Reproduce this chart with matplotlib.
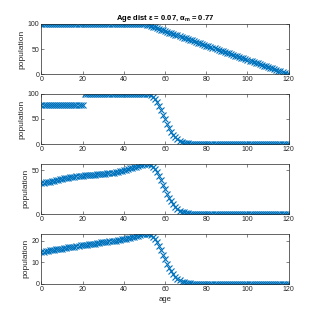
import numpy as np
import matplotlib
matplotlib.use("Agg")
import matplotlib.pyplot as plt
from matplotlib import font_manager

names = {f.name for f in font_manager.fontManager.ttflist}
tick_font = 'Liberation Sans Narrow' if 'Liberation Sans Narrow' in names else 'Liberation Sans'

plt.rcParams['font.family'] = ['Liberation Sans', 'DejaVu Sans']
plt.rcParams['mathtext.fontset'] = 'custom'
plt.rcParams['mathtext.rm'] = 'Liberation Sans:bold'
plt.rcParams['mathtext.it'] = 'Liberation Sans:bold'
plt.rcParams['mathtext.bf'] = 'Liberation Sans:bold'

# ages 0..120, one sample per year
age = np.arange(0, 121)

# panel 1: flat, then straight decline to zero
pop_1 = [100.0] * 51 + [
    98.6, 97.1, 95.7, 94.3, 92.9, 91.4, 90.0, 88.6, 87.1, 85.7,
    84.3, 82.9, 81.4, 80.0, 78.6, 77.1, 75.7, 74.3, 72.9, 71.4,
    70.0, 68.6, 67.1, 65.7, 64.3, 62.9, 61.4, 60.0, 58.6, 57.1,
    55.7, 54.3, 52.9, 51.4, 50.0, 48.6, 47.1, 45.7, 44.3, 42.9,
    41.4, 40.0, 38.6, 37.1, 35.7, 34.3, 32.9, 31.4, 30.0, 28.6,
    27.1, 25.7, 24.3, 22.9, 21.4, 20.0, 18.6, 17.1, 15.7, 14.3,
    12.9, 11.4, 10.0, 8.6, 7.1, 5.7, 4.3, 2.9, 1.4, 0.0]

# panel 2: step at 20, plateau, then steep fall
pop_2 = [77.0] * 21 + [100.0] * 31 + [
    99.0, 97.0, 94.0, 89.0, 83.0, 75.0, 67.0, 58.0, 49.0, 40.0,
    32.0, 25.0, 19.0, 14.0, 10.0, 7.0, 4.8, 3.2, 2.1, 1.3,
    0.8, 0.5, 0.3, 0.2, 0.1] + [0.0] * 44

# panel 3
pop_3 = [
    35.5, 35.8, 36.2, 36.7, 37.2, 37.7, 38.2, 38.8, 39.3, 39.8,
    40.3, 40.8, 41.3, 41.7, 42.1, 42.5, 42.9, 43.2, 43.5, 43.8,
    44.0, 44.2, 44.4, 44.6, 44.8, 45.0, 45.2, 45.3, 45.5, 45.7,
    45.9, 46.1, 46.4, 46.7, 47.0, 47.4, 47.9, 48.4, 49.0, 49.6,
    50.2, 50.9, 51.6, 52.3, 53.0, 53.7, 54.4, 55.1, 55.8, 56.5,
    57.1, 57.6, 57.0, 55.9, 54.1, 51.3, 47.8, 43.2, 38.6, 33.4,
    28.2, 23.0, 18.4, 14.4, 10.9, 8.1, 5.8, 4.0, 2.8, 1.8,
    1.2, 0.7, 0.5, 0.3, 0.2, 0.1] + [0.0] * 45

# panel 4
pop_4 = [
    14.9, 15.0, 15.2, 15.3, 15.5, 15.7, 15.8, 16.0, 16.1, 16.3,
    16.4, 16.6, 16.7, 16.9, 17.0, 17.2, 17.3, 17.5, 17.6, 17.8,
    17.9, 18.0, 18.2, 18.3, 18.5, 18.6, 18.7, 18.9, 19.0, 19.2,
    19.3, 19.4, 19.6, 19.7, 19.9, 20.0, 20.1, 20.3, 20.4, 20.6,
    20.7, 20.9, 21.2, 21.4, 21.6, 21.9, 22.1, 22.4, 22.6, 22.9,
    23.1, 23.3, 23.1, 22.6, 21.9, 20.7, 19.3, 17.5, 15.6, 13.5,
    11.4, 9.3, 7.5, 5.8, 4.4, 3.3, 2.3, 1.6, 1.1, 0.7,
    0.5, 0.3, 0.2, 0.1, 0.05, 0.02] + [0.0] * 45

panels = [pop_1, pop_2, pop_3, pop_4]
yticks = [[0, 50, 100], [0, 50, 100], [0, 50], [0, 10, 20]]

blue = '#0072BD'
grey = '#262626'

fig = plt.figure(figsize=(3.19, 3.19), dpi=100)
bottoms = [0.7673, 0.5482, 0.3291, 0.11]

for k, pop in enumerate(panels):
    ax = fig.add_axes([0.13, bottoms[k], 0.775, 0.1577])
    ax.plot(age, pop, 'x', color=blue, markersize=4.2, markeredgewidth=0.8)
    ax.set_xlim(0, 120)
    ax.set_ylim(0, max(pop))
    ax.set_xticks([0, 20, 40, 60, 80, 100, 120])
    ax.set_yticks(yticks[k])
    ax.tick_params(direction='in', length=2, width=0.4, labelsize=5,
                   colors=grey, pad=1.5, top=True, right=True)
    for lab in ax.get_xticklabels() + ax.get_yticklabels():
        lab.set_fontfamily(tick_font)
    for s in ax.spines.values():
        s.set_linewidth(0.5)
        s.set_color(grey)
    ax.set_ylabel('population', fontsize=6, color=grey, labelpad=1.5)
    if k == 0:
        ax.set_title(r'Age dist $\varepsilon$ = 0.07, $\alpha_m$ = 0.77',
                     fontsize=5.5, fontweight='bold', pad=3)
    if k == 3:
        ax.set_xlabel('age', fontsize=5.5, color=grey, labelpad=2)

fig.savefig('out.png', dpi=100)
